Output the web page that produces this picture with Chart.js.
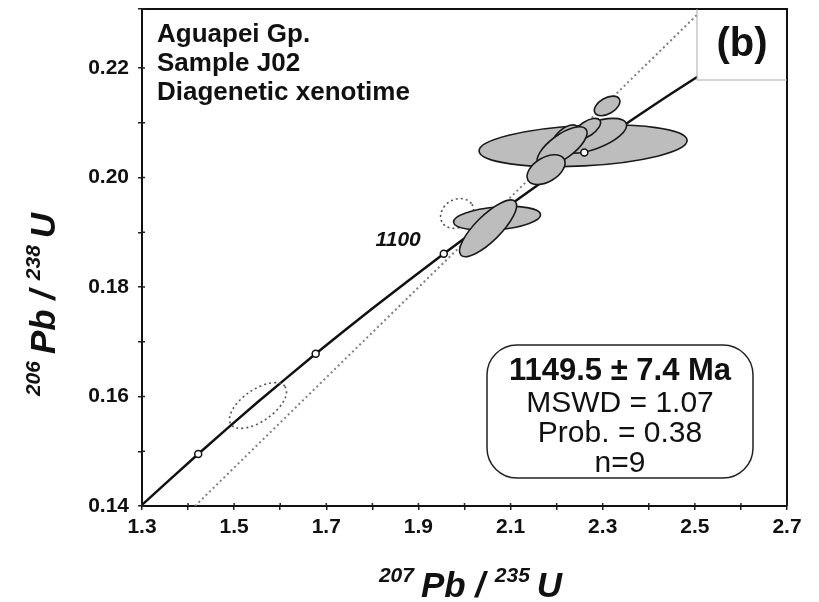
<!DOCTYPE html>
<html>
<head>
<meta charset="utf-8">
<script src="https://cdn.jsdelivr.net/npm/chart.js@4.4.1/dist/chart.umd.min.js"></script>
<style>
  html, body { margin: 0; padding: 0; background: #fff; }
  #wrap { width: 819px; height: 602px; }
</style>
</head>
<body>
<div id="wrap"><canvas id="myChart" width="819" height="602"></canvas></div>
<script>
// tick labels
const xTickLabels = ['1.3', '1.5', '1.7', '1.9', '2.1', '2.3', '2.5', '2.7']
const yTickLabels = ['0.14', '0.16', '0.18', '0.20', '0.22']

// concordia curve (207Pb/235U, 206Pb/238U)
const concordiaX = [1.30, 1.422, 1.55, 1.677, 1.80, 1.955, 2.10, 2.26, 2.45, 2.70]
const concordiaY = [0.1402, 0.1495, 0.1589, 0.1678, 0.1761, 0.1861, 0.1951, 0.2046, 0.2154, 0.2289]

// age marks on concordia (Ma)
const ageMa = [900, 1000, 1100, 1200]
const ageX = [1.422, 1.677, 1.955, 2.260]
const ageY = [0.1495, 0.1678, 0.1861, 0.2046]
const ageLabelled = [1100]

// dotted reference line
const refLineX = [1.415, 2.52]
const refLineY = [0.1400, 0.2310]

// analysed spots: centre, sigma x, sigma y, correlation
const spotX = [2.2574, 2.3096, 2.2792, 2.2661, 2.2184, 2.2118, 2.1771, 2.0707, 2.0512]
const spotY = [0.20582, 0.2131, 0.20764, 0.2089, 0.20745, 0.20564, 0.20145, 0.19255, 0.19073]
const spotSx = [0.2258, 0.0277, 0.0727, 0.0293, 0.0282, 0.0543, 0.0412, 0.0944, 0.0619]
const spotSy = [0.00382, 0.00179, 0.00318, 0.00191, 0.00218, 0.00364, 0.00273, 0.00218, 0.00518]
const spotRho = [0.25, 0.455, 0.6, 0.6, 0.6, 0.7, 0.45, 0.3, 0.8]

// excluded spots (dotted)
const exclX = [1.9839, 1.5518]
const exclY = [0.19345, 0.15836]
const exclSx = [0.0358, 0.0619]
const exclSy = [0.00273, 0.00418]
const exclRho = [0.2, 0.6]

const FONT = "'Liberation Sans', Arial, sans-serif"

function ellipsePath (ctx, xs, ys, x, y, sx, sy, rho) {
  const kx = Math.abs(xs.getPixelForValue(1) - xs.getPixelForValue(0))
  const ky = Math.abs(ys.getPixelForValue(1) - ys.getPixelForValue(0))
  const a = sx * kx
  const b = sy * ky
  const c = -rho * a * b
  const theta = 0.5 * Math.atan2(2 * c, a * a - b * b)
  const mean = (a * a + b * b) / 2
  const d = Math.sqrt(Math.pow((a * a - b * b) / 2, 2) + c * c)
  ctx.beginPath()
  ctx.ellipse(xs.getPixelForValue(x), ys.getPixelForValue(y),
    Math.sqrt(mean + d), Math.sqrt(Math.max(mean - d, 0.5)), theta, 0, Math.PI * 2)
}

function drawRich (ctx, parts, x, y, align) {
  let total = 0
  parts.forEach(p => {
    ctx.font = p.sup ? 'italic bold 21px ' + FONT : 'italic bold 35px ' + FONT
    p.w = ctx.measureText(p.t).width + (p.sup ? 7 : 0)
    total += p.w
  })
  let cx = align === 'center' ? x - total / 2 : x
  parts.forEach(p => {
    ctx.font = p.sup ? 'italic bold 21px ' + FONT : 'italic bold 35px ' + FONT
    ctx.fillText(p.t, cx, p.sup ? y - 15 : y)
    cx += p.w
  })
}

// ticks crossing the axis lines
function drawInnerTicks (ctx, scale, horizontal, edge) {
  ctx.beginPath()
  scale.ticks.forEach(t => {
    const p = scale.getPixelForValue(t.value)
    if (horizontal) {
      ctx.moveTo(p, edge)
      ctx.lineTo(p, edge - 3)
    } else {
      ctx.moveTo(edge, p)
      ctx.lineTo(edge + 3, p)
    }
  })
  ctx.stroke()
}

const ellipsePlugin = {
  id: 'ellipses',
  afterDatasetDraw (chart, args) {
    if (args.index !== 1) return
    const { ctx, chartArea } = chart
    const xs = chart.scales.x
    const ys = chart.scales.y
    ctx.save()
    ctx.beginPath()
    ctx.rect(chartArea.left, chartArea.top, chartArea.right - chartArea.left, chartArea.bottom - chartArea.top)
    ctx.clip()
    // dotted (excluded) ellipses
    ctx.setLineDash([2, 3])
    ctx.strokeStyle = '#555'
    ctx.lineWidth = 1.6
    exclX.forEach((x, i) => {
      ellipsePath(ctx, xs, ys, x, exclY[i], exclSx[i], exclSy[i], exclRho[i])
      ctx.stroke()
    })
    ctx.setLineDash([])
    ctx.fillStyle = '#bdbdbd'
    ctx.strokeStyle = '#1a1a1a'
    ctx.lineWidth = 1.6
    spotX.forEach((x, i) => {
      ellipsePath(ctx, xs, ys, x, spotY[i], spotSx[i], spotSy[i], spotRho[i])
      ctx.fill()
      ctx.stroke()
    })
    ctx.restore()
  }
}

const decorPlugin = {
  id: 'decor',
  afterDraw (chart) {
    const { ctx, chartArea } = chart
    const L = chartArea.left
    const T = chartArea.top
    const R = chartArea.right
    const B = chartArea.bottom
    const xs = chart.scales.x
    const ys = chart.scales.y
    ctx.save()

    // frame
    ctx.strokeStyle = '#111'
    ctx.lineWidth = 2
    ctx.beginPath()
    ctx.moveTo(L, T)
    ctx.lineTo(R, T)
    ctx.lineTo(R, B)
    ctx.stroke()
    ctx.lineWidth = 1.5
    ctx.strokeStyle = '#222'
    drawInnerTicks(ctx, xs, true, B)
    drawInnerTicks(ctx, ys, false, L)

    // (b) box
    ctx.fillStyle = '#fff'
    ctx.fillRect(R - 90, T + 1, 89, 70)
    ctx.strokeStyle = '#aaa'
    ctx.lineWidth = 1
    ctx.beginPath()
    ctx.moveTo(R - 90, T)
    ctx.lineTo(R - 90, T + 71)
    ctx.lineTo(R, T + 71)
    ctx.stroke()
    ctx.fillStyle = '#111'
    ctx.font = 'bold 40px ' + FONT
    ctx.textAlign = 'center'
    ctx.textBaseline = 'middle'
    ctx.fillText('(b)', R - 45, T + 36)

    // sample text
    ctx.textAlign = 'left'
    ctx.textBaseline = 'alphabetic'
    ctx.font = 'bold 26px ' + FONT
    ctx.fillText('Aguapei Gp.', L + 15, T + 33)
    ctx.fillText('Sample J02', L + 15, T + 62)
    ctx.fillText('Diagenetic xenotime', L + 15, T + 91)

    // age labels
    ctx.font = 'italic bold 21px ' + FONT
    ctx.textAlign = 'right'
    ageMa.forEach((a, i) => {
      if (!ageLabelled.includes(a)) return
      ctx.fillText(String(a), xs.getPixelForValue(ageX[i]) - 23, ys.getPixelForValue(ageY[i]) - 8)
    })

    // result box
    const bx = L + 345
    const by = T + 336
    const bw = 266
    const bh = 133
    ctx.fillStyle = '#fff'
    ctx.strokeStyle = '#222'
    ctx.lineWidth = 1.5
    ctx.beginPath()
    ctx.roundRect(bx, by, bw, bh, 30)
    ctx.fill()
    ctx.stroke()
    ctx.fillStyle = '#111'
    ctx.textAlign = 'center'
    ctx.font = 'bold 31px ' + FONT
    ctx.fillText('1149.5 \u00b1 7.4 Ma', bx + bw / 2, by + 35)
    ctx.font = '30px ' + FONT
    ctx.fillText('MSWD = 1.07', bx + bw / 2, by + 67)
    ctx.fillText('Prob. = 0.38', bx + bw / 2, by + 97)
    ctx.fillText('n=9', bx + bw / 2, by + 127)

    // axis titles
    ctx.textAlign = 'left'
    ctx.fillStyle = '#111'
    drawRich(ctx, [{ t: '207', sup: true }, { t: 'Pb / ' }, { t: '235', sup: true }, { t: 'U' }], (L + R) / 2 + 6, 597, 'center')
    ctx.translate(55, (T + B) / 2 + 47)
    ctx.rotate(-Math.PI / 2)
    drawRich(ctx, [{ t: '206', sup: true }, { t: 'Pb / ' }, { t: '238', sup: true }, { t: 'U' }], 0, 0, 'center')
    ctx.restore()
  }
}

;(() => {
  'use strict'

  const ctx = document.getElementById('myChart')
  // eslint-disable-next-line no-unused-vars
  const myChart = new Chart(ctx, {
    type: 'scatter',
    data: {
      datasets: [
        {
          label: 'Age marks',
          data: ageX.map((x, i) => ({ x, y: ageY[i] })),
          pointRadius: 3.5,
          pointBackgroundColor: '#fff',
          pointBorderColor: '#111',
          pointBorderWidth: 1.5,
          showLine: false
        },
        {
          label: 'Concordia',
          data: concordiaX.map((x, i) => ({ x, y: concordiaY[i] })),
          showLine: true,
          borderColor: '#111',
          borderWidth: 2.5,
          pointRadius: 0,
          tension: 0.2
        },
        {
          label: 'Reference line',
          data: refLineX.map((x, i) => ({ x, y: refLineY[i] })),
          showLine: true,
          borderColor: '#808080',
          borderWidth: 2,
          borderDash: [2, 3],
          pointRadius: 0
        }
      ]
    },
    options: {
      responsive: false,
      animation: false,
      layout: { padding: { left: 0, top: 9, right: 32, bottom: 0 } },
      plugins: {
        legend: { display: false },
        tooltip: { enabled: false }
      },
      scales: {
        x: {
          type: 'linear',
          min: 1.3,
          max: 2.7,
          afterFit: (scale) => {
            scale.height = 96
            scale.paddingLeft = 0
            scale.paddingRight = 0
          },
          border: { display: true, color: '#111', width: 2 },
          grid: { drawOnChartArea: false, color: '#222', lineWidth: 1.5, tickLength: 4 },
          ticks: {
            stepSize: 0.1,
            autoSkip: false,
            maxRotation: 0,
            padding: 5,
            color: '#111',
            font: { family: FONT, weight: 'bold', size: 21 },
            callback: (v) => xTickLabels.includes(Number(v).toFixed(1)) ? Number(v).toFixed(1) : ''
          }
        },
        y: {
          type: 'linear',
          min: 0.14,
          max: 0.2308,
          afterFit: (scale) => {
            scale.width = 142
            scale.paddingTop = 0
            scale.paddingBottom = 0
          },
          border: { display: true, color: '#111', width: 2 },
          grid: { drawOnChartArea: false, color: '#222', lineWidth: 1.5, tickLength: 4 },
          ticks: {
            stepSize: 0.01,
            autoSkip: false,
            padding: 9,
            color: '#111',
            font: { family: FONT, weight: 'bold', size: 21 },
            callback: (v) => yTickLabels.includes(Number(v).toFixed(2)) ? Number(v).toFixed(2) : ''
          }
        }
      }
    },
    plugins: [ellipsePlugin, decorPlugin]
  })
})()
</script>
</body>
</html>
